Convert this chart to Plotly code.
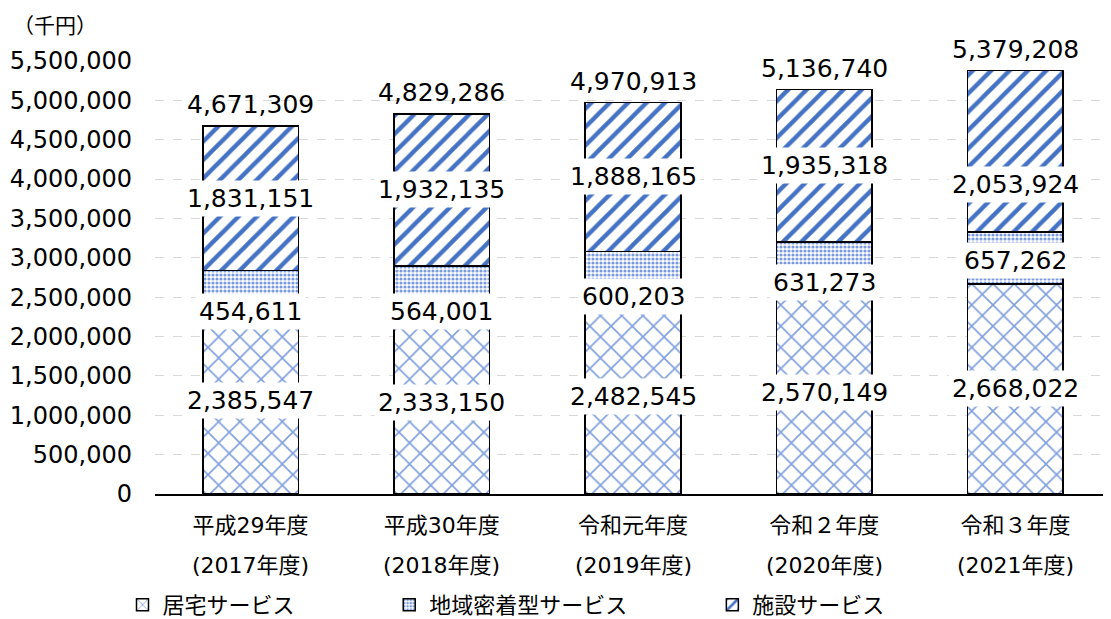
import plotly.graph_objects as go

# ---- data ----
categories = ["平成29年度", "平成30年度", "令和元年度", "令和２年度", "令和３年度"]
fiscal_years = ["(2017年度)", "(2018年度)", "(2019年度)", "(2020年度)", "(2021年度)"]
kyotaku = [2385547, 2333150, 2482545, 2570149, 2668022]      # 居宅サービス
chiiki = [454611, 564001, 600203, 631273, 657262]            # 地域密着型サービス
shisetsu = [1831151, 1932135, 1888165, 1935318, 2053924]     # 施設サービス
totals = [4671309, 4829286, 4970913, 5136740, 5379208]
series_names = ["居宅サービス", "地域密着型サービス", "施設サービス"]
y_ticks = [0, 500000, 1000000, 1500000, 2000000, 2500000, 3000000,
           3500000, 4000000, 4500000, 5000000, 5500000]
unit_label = "（千円）"

# label pixel nudges (as placed in the original)
mid_shift = [-23, -23, -22, -16, -2]
top_shift = [0, 0, 0, 0, -33]

FONT = "DejaVu Sans, Noto Sans CJK JP, sans-serif"
JFONT = "Noto Sans CJK JP, DejaVu Sans, sans-serif"
BLUE = "#4472C4"

fig = go.Figure()
styles = [
    dict(shape="x", fgcolor="#7E9EDC", bgcolor="white", size=15, solidity=0.2, fgopacity=1),
    dict(shape=".", fgcolor="#7C9BDA", bgcolor="white", size=4, solidity=0.5, fgopacity=1),
    dict(shape="/", fgcolor=BLUE, bgcolor="white", size=13, solidity=0.33, fgopacity=1),
]
legends = ["legend", "legend2", "legend3"]
for vals, name, st, lg in zip([kyotaku, chiiki, shisetsu], series_names, styles, legends):
    fig.add_trace(go.Bar(
        x=categories, y=vals, name=name, legend=lg, showlegend=True,
        marker=dict(color="white", line=dict(color="black", width=1.5), pattern=st),
    ))

annotations = []
for i, c in enumerate(categories):
    b1 = kyotaku[i]
    b2 = b1 + chiiki[i]
    centers = [b1 / 2, b1 + chiiki[i] / 2, b2 + shisetsu[i] / 2]
    vals = [kyotaku[i], chiiki[i], shisetsu[i]]
    shifts = [0, mid_shift[i], top_shift[i]]
    for yc, v, s in zip(centers, vals, shifts):
        annotations.append(dict(
            x=c, y=yc, xref="x", yref="y", text=f"{v:,}", showarrow=False,
            font=dict(family=FONT, size=25, color="black"),
            bgcolor="white", borderpad=3, yshift=s,
        ))
    annotations.append(dict(
        x=c, y=totals[i], xref="x", yref="y", text=f"{totals[i]:,}", showarrow=False,
        font=dict(family=FONT, size=25, color="black"), yanchor="bottom", yshift=5,
    ))
    annotations.append(dict(
        x=c, y=0, xref="x", yref="paper", text=fiscal_years[i], showarrow=False,
        font=dict(family=FONT, size=22, color="black"), yanchor="middle", yshift=-71,
    ))

annotations.append(dict(
    x=0, y=1, xref="paper", yref="paper", xanchor="left", yanchor="top",
    xshift=-143, yshift=53, text=unit_label, showarrow=False, borderpad=0,
    font=dict(family=JFONT, size=21, color="black"),
))

leg_common = dict(orientation="h", yanchor="middle", y=-0.256, xanchor="left",
                  font=dict(family=FONT, size=22, color="black"),
                  bgcolor="rgba(0,0,0,0)")

# page body has an 8px margin, so the figure is sized to end at the window edge
fig.update_layout(
    width=1103, height=611,
    barmode="stack", bargap=0.5,
    showlegend=True,
    plot_bgcolor="white", paper_bgcolor="white",
    margin=dict(l=147, r=0, t=53, b=125, autoexpand=False),
    font=dict(family=FONT, size=22, color="black"),
    annotations=annotations,
    legend=dict(x=-0.034, **leg_common),
    legend2=dict(x=0.245, **leg_common),
    legend3=dict(x=0.583, **leg_common),
    xaxis=dict(showline=True, linecolor="black", linewidth=2, ticks="", automargin=False,
               ticklabelstandoff=11,
               tickfont=dict(family=FONT, size=22, color="black")),
    yaxis=dict(range=[0, 5500000], tickvals=y_ticks, tickformat=",", automargin=False,
               showgrid=True, gridcolor="#D9D9D9", griddash="dash", gridwidth=1,
               zeroline=False, showline=False, ticks="", ticklabelstandoff=22,
               tickfont=dict(family=FONT, size=24, color="black")),
)

fig.write_html("out.html")
